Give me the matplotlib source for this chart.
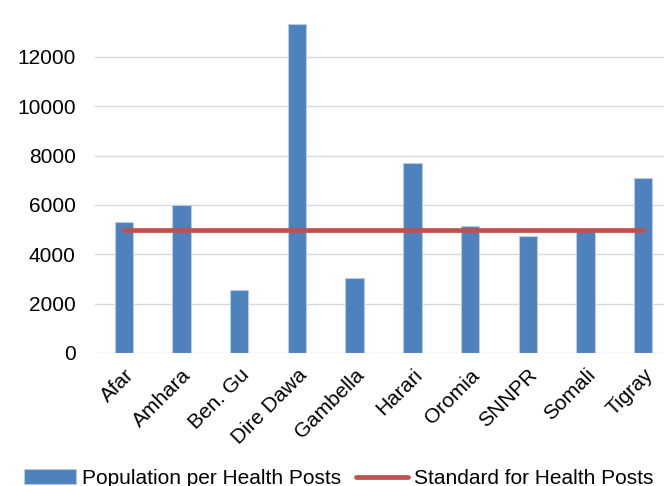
import matplotlib
matplotlib.use("Agg")
import matplotlib.pyplot as plt
import numpy as np

# データ
regions = ["Afar", "Amhara", "Ben. Gu", "Dire Dawa", "Gambella",
           "Harari", "Oromia", "SNNPR", "Somali", "Tigray"]
pop_per_post = [5290, 6000, 2545, 13320, 3055, 7700, 5150, 4730, 4950, 7070]
standard = [5000] * len(regions)
yticks = [0, 2000, 4000, 6000, 8000, 10000, 12000]

plt.rcParams['font.family'] = ['Liberation Sans', 'DejaVu Sans']

fig = plt.figure(figsize=(6.64, 4.86), dpi=100)
ax = fig.add_axes([95/664, 1-353/486, 577/664, 353/486])

x = np.arange(len(regions))
bars = ax.bar(x, pop_per_post, width=0.32, color="#4F81BD", edgecolor="#B7CCE4",
              linewidth=0.8, label="Population per Health Posts", zorder=2)
line, = ax.plot(x, standard, color="#C0504D", linewidth=3.4, solid_capstyle="round",
                label="Standard for Health Posts", zorder=3)

ax.set_xlim(-0.5, len(regions) - 0.5)
ax.set_ylim(0, 14300)
ax.set_yticks(yticks)
ax.set_yticklabels([str(v) for v in yticks])
ax.yaxis.grid(True, color="#D9D9D9", linewidth=1.0, zorder=0)
ax.set_axisbelow(True)
for s in ax.spines.values():
    s.set_visible(False)

ax.tick_params(axis="y", length=0, pad=14, labelsize=15)
ax.tick_params(axis="x", length=0, pad=9, labelsize=15)
ax.set_xticks(x)
ax.set_xticklabels(regions, rotation=45, ha="right", va="top", rotation_mode="anchor")

# 凡例（棒が先）
fig.legend([bars, line], ["Population per Health Posts", "Standard for Health Posts"],
           loc="upper left", bbox_to_anchor=(24/664, 1-469/486), ncol=2,
           frameon=False, fontsize=15, borderpad=0, borderaxespad=0,
           handlelength=2.5, handletextpad=0.3, columnspacing=0.7)

fig.savefig("out.png", dpi=100)
